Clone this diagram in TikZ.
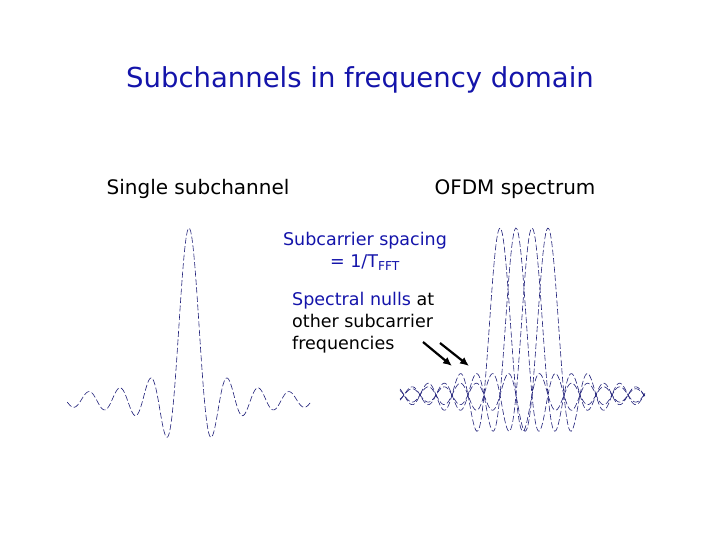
\documentclass[tikz,border=0pt]{standalone}
\usepackage{fontspec}
\setmainfont{DejaVu Sans}
\usetikzlibrary{arrows.meta}
\definecolor{navy}{RGB}{20,20,170}
\definecolor{curve}{RGB}{30,30,120}
\tikzset{
    Sinc/.style = {curve, line width=0.6pt, dash pattern=on 6pt off 2.5pt, smooth},
    Null/.style = {line width=2.2pt, -{Latex[length=9pt,width=8pt]}}
}

\begin{document}
\begin{tikzpicture}[x=1pt, y=-1pt]
\useasboundingbox (0,0) rectangle (720,540);

\node (title) at (360,80) {\fontsize{27.5}{30}\selectfont\color{navy}Subchannels in frequency domain};
\node (single) at (198,189) {\fontsize{20}{24}\selectfont Single subchannel};
\node (ofdm) at (515,189) {\fontsize{20}{24}\selectfont OFDM spectrum};
\node (spacing) [align=center, font=\fontsize{17.5}{22}\selectfont, color=navy] at (365,251)
    {Subcarrier spacing\\= 1/T\textsubscript{FFT}};
\node (nulls) [align=left, anchor=north west, font=\fontsize{17.5}{22}\selectfont, inner sep=0pt] at (292,292)
    {{\color{navy}Spectral nulls} at\\other subcarrier\\frequencies};

% single subchannel
\draw[Sinc] plot[domain=-7.9:7.9, samples=240]
    ({189+15.4*\x}, {400-172*sin(180*\x)/(pi*\x)});

% OFDM spectrum
\foreach \c in {500,516,532,548} {
    \pgfmathsetmacro{\lo}{(400-\c)/16}
    \pgfmathsetmacro{\hi}{(645-\c)/16}
    \draw[Sinc] plot[domain=\lo:\hi, samples=240]
        ({\c+16*\x}, {395-167*sin(180*\x)/(pi*\x)});
}

\coordinate (a1) at (423,342);
\coordinate (b1) at (452,366);
\coordinate (a2) at (440,343);
\coordinate (b2) at (469,366);
\draw[Null] (a1) -- (b1);
\draw[Null] (a2) -- (b2);
\end{tikzpicture}
\end{document}
